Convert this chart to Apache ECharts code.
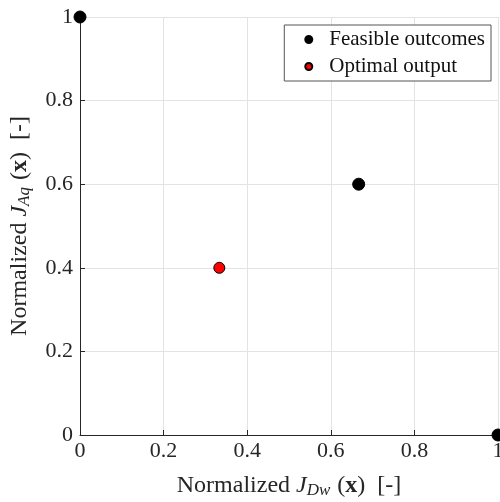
<!DOCTYPE html>
<html>
<head>
<meta charset="utf-8">
<style>
  html, body { margin: 0; padding: 0; background: #fff; }
  #chart { width: 500px; height: 502px; }
</style>
<script src="https://cdn.jsdelivr.net/npm/echarts@6/dist/echarts.min.js"></script>
</head>
<body>
<div id="chart"></div>
<script>
// data
const feasibleX = [0, 0.6667, 1]
const feasibleY = [1, 0.6, 0]
const optimalX = [0.3333]
const optimalY = [0.4]
const tickLabels = ['0', '0.2', '0.4', '0.6', '0.8', '1']

const serif = '"Liberation Serif", "DejaVu Serif", serif'

const pairs = (xs, ys) => xs.map((x, i) => [x, ys[i]])

const nameRich = {
  n: { fontFamily: serif, fontSize: 24, color: '#262626' },
  i: { fontFamily: serif, fontSize: 24, fontStyle: 'italic', color: '#262626' },
  sub: { fontFamily: serif, fontSize: 17, fontStyle: 'italic', color: '#262626', verticalAlign: 'bottom', padding: [10, 1, 0, 0] },
  b: { fontFamily: serif, fontSize: 24, fontWeight: 'bold', color: '#262626' }
}

const axisCommon = {
  type: 'value',
  min: 0,
  max: 1,
  interval: 0.2,
  nameLocation: 'middle',
  axisLine: { show: true, onZero: false, lineStyle: { color: '#262626', width: 1 } },
  axisTick: { show: true, inside: true, length: 5, lineStyle: { color: '#262626' } },
  splitLine: { show: true, lineStyle: { color: '#e3e3e3', width: 1 } },
  axisLabel: {
    fontFamily: serif,
    fontSize: 22,
    color: '#262626',
    formatter: v => tickLabels[Math.round(v / 0.2)]
  }
}

const chart = echarts.init(document.getElementById('chart'))
chart.setOption({
  animation: false,
  backgroundColor: '#fff',
  grid: { left: 80, right: 2, top: 17, bottom: 67, containLabel: false, outerBoundsMode: 'none' },
  legend: {
    right: 9,
    top: 25,
    orient: 'vertical',
    icon: 'circle',
    itemWidth: 7,
    itemHeight: 7,
    itemGap: 6,
    padding: [4, 6, 4, 20],
    borderColor: '#555',
    borderWidth: 1,
    backgroundColor: '#fff',
    textStyle: { fontFamily: serif, fontSize: 21, color: '#111', padding: [0, 0, 0, 12] },
    data: ['Feasible outcomes', 'Optimal output']
  },
  xAxis: {
    ...axisCommon,
    name: '{n|Normalized }{i|J}{sub|Dw}{n| (}{b|x}{n|)  [-]}',
    nameGap: 37,
    nameTextStyle: { rich: nameRich },
    axisLabel: { ...axisCommon.axisLabel, margin: 5 }
  },
  yAxis: {
    ...axisCommon,
    name: '{n|Normalized }{i|J}{sub|Aq}{n| (}{b|x}{n|)  [-]}',
    nameGap: 47,
    nameTextStyle: { rich: nameRich },
    axisLabel: { ...axisCommon.axisLabel, margin: 7 }
  },
  series: [
    {
      name: 'Feasible outcomes',
      type: 'scatter',
      symbol: 'circle',
      symbolSize: 12,
      itemStyle: { color: '#000', borderColor: '#000', borderWidth: 1, opacity: 1 },
      clip: false,
      data: pairs(feasibleX, feasibleY)
    },
    {
      name: 'Optimal output',
      type: 'scatter',
      symbol: 'circle',
      symbolSize: 11,
      itemStyle: { color: '#ff0000', borderColor: '#000', borderWidth: 1, opacity: 1 },
      clip: false,
      data: pairs(optimalX, optimalY)
    }
  ]
})
</script>
</body>
</html>
